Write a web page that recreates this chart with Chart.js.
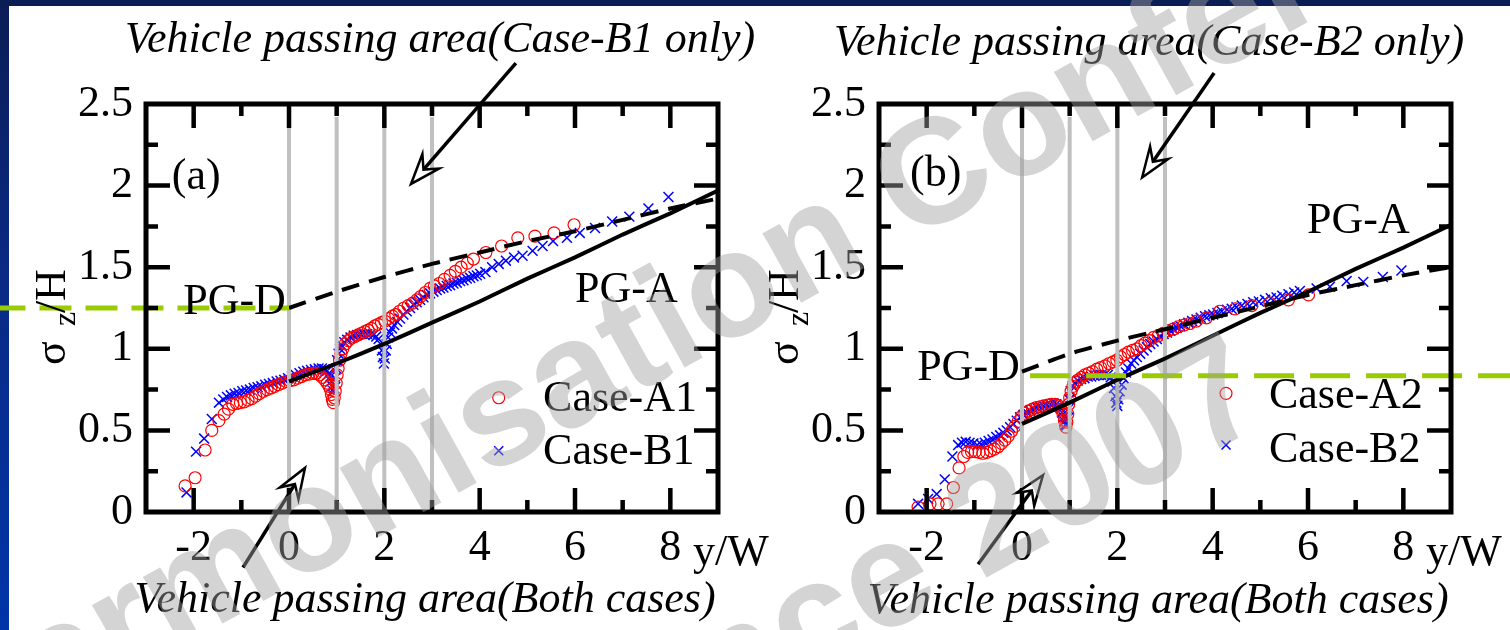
<!DOCTYPE html>
<html>
<head>
<meta charset="utf-8">
<script src="https://cdn.jsdelivr.net/npm/chart.js@4.4.1/dist/chart.umd.min.js"></script>
<style>
  html, body { margin: 0; padding: 0; }
  body { width: 1510px; height: 630px; position: relative; overflow: hidden; background: #fff; }
  #topbar { position: absolute; left: 0; top: 0; width: 1510px; height: 6px; background: #0b1d55; }
  #leftbar { position: absolute; left: 0; top: 0; width: 9px; height: 630px;
             background: linear-gradient(#0b1d55, #0a2a86 45%, #0035a8); }
  canvas { position: absolute; left: 0; top: 0; }
  .wm { position: absolute; left: 0; top: 0; white-space: nowrap; pointer-events: none;
        font: bold 150px "Liberation Sans", Arial, sans-serif; color: rgba(160,160,160,0.45);
        transform-origin: 0 0; line-height: 1; }
</style>
</head>
<body>
<div id="topbar"></div>
<div id="leftbar"></div>
<canvas id="panelA" width="1510" height="630"></canvas>
<canvas id="panelB" width="1510" height="630"></canvas>
<div class="wm" id="wm1">Harmonisation Conference 2007</div>
<div class="wm" id="wm2">Harmonisation Conference 2007</div>
<script>
// ---------- axis ticks ----------
const X_TICK_VALUES = [-2, 0, 2, 4, 6, 8];
const X_TICK_LABELS = ['-2', '0', '2', '4', '6', '8'];
const Y_TICK_VALUES = [0, 0.5, 1, 1.5, 2, 2.5];
const Y_TICK_LABELS = ['0', '0.5', '1', '1.5', '2', '2.5'];

// ---------- panel (a) ----------
const A1_X = [-2.18, -1.97, -1.76, -1.62, -1.47, -1.36, -1.27, -1.18, -1.10, -1.02, -0.94, -0.86, -0.78, -0.70,
              -0.62, -0.54, -0.46, -0.38, -0.30, -0.22, -0.14, -0.06, 0.02, 0.10, 0.18, 0.26, 0.34, 0.42,
              0.50, 0.57, 0.64, 0.70, 0.75, 0.80, 0.84, 0.87, 0.89, 0.91, 0.93, 0.95, 0.97, 0.99, 1.01, 1.03,
              1.06, 1.09, 1.13, 1.18, 1.24, 1.31, 1.38, 1.45, 1.52, 1.59, 1.66, 1.73, 1.80, 1.87, 1.94, 2.01,
              2.09, 2.17, 2.24, 2.32, 2.41, 2.50, 2.59, 2.68, 2.76, 2.86, 2.96, 3.05, 3.15, 3.26, 3.38, 3.49,
              3.61, 3.74, 3.87, 4.13, 4.46, 4.80, 5.16, 5.56, 5.98];
const A1_Y = [0.16, 0.21, 0.38, 0.50, 0.56, 0.60, 0.63, 0.66, 0.665, 0.67, 0.675, 0.685, 0.695, 0.71,
              0.725, 0.74, 0.75, 0.76, 0.77, 0.78, 0.79, 0.80, 0.805, 0.81, 0.82, 0.83, 0.84, 0.845,
              0.85, 0.85, 0.84, 0.825, 0.81, 0.79, 0.77, 0.75, 0.72, 0.69, 0.67, 0.70, 0.74, 0.79, 0.84, 0.88,
              0.93, 0.97, 1.00, 1.03, 1.05, 1.065, 1.075, 1.085, 1.095, 1.105, 1.115, 1.125, 1.14, 1.15, 1.16, 1.17,
              1.185, 1.20, 1.21, 1.23, 1.25, 1.265, 1.28, 1.30, 1.32, 1.345, 1.37, 1.385, 1.40, 1.425, 1.45, 1.475,
              1.50, 1.525, 1.55, 1.59, 1.63, 1.68, 1.69, 1.71, 1.76];

const B1_X = [-2.15, -1.95, -1.78, -1.62, -1.47, -1.38, -1.30, -1.22, -1.14, -1.06, -0.98, -0.90, -0.82, -0.74,
              -0.66, -0.58, -0.50, -0.42, -0.34, -0.26, -0.18, -0.10, -0.02, 0.06, 0.14, 0.22, 0.30, 0.38,
              0.46, 0.54, 0.62, 0.69, 0.75, 0.80, 0.84, 0.87, 0.89, 0.91, 0.93, 0.95, 0.97, 0.99, 1.01, 1.04,
              1.07, 1.11, 1.16, 1.22, 1.29, 1.36, 1.43, 1.50, 1.57, 1.64, 1.71, 1.77, 1.83, 1.88, 1.92, 1.95,
              1.97, 1.99, 2.01, 2.03, 2.05, 2.08, 2.12, 2.16, 2.21, 2.27, 2.33, 2.40, 2.47, 2.54, 2.61, 2.68,
              2.75, 2.82, 2.89, 2.96, 3.03, 3.10, 3.17, 3.24, 3.31, 3.38, 3.45, 3.52, 3.59, 3.66, 3.73, 3.80,
              3.87, 3.94, 4.01, 4.12, 4.26, 4.40, 4.55, 4.72, 4.90, 5.11, 5.32, 5.54, 5.83, 6.10, 6.42, 6.78,
              7.14, 7.54, 7.96];
const B1_Y = [0.12, 0.37, 0.45, 0.57, 0.67, 0.69, 0.705, 0.715, 0.725, 0.73, 0.74, 0.745, 0.75, 0.76,
              0.765, 0.77, 0.78, 0.785, 0.79, 0.80, 0.805, 0.81, 0.82, 0.83, 0.84, 0.85, 0.86, 0.865,
              0.87, 0.875, 0.88, 0.88, 0.875, 0.865, 0.85, 0.83, 0.80, 0.77, 0.74, 0.76, 0.82, 0.88, 0.93, 0.97,
              1.00, 1.02, 1.04, 1.055, 1.07, 1.08, 1.085, 1.09, 1.09, 1.09, 1.09, 1.085, 1.075, 1.06, 1.03, 0.99,
              0.95, 0.91, 0.94, 0.99, 1.03, 1.07, 1.10, 1.125, 1.145, 1.165, 1.185, 1.21, 1.23, 1.25, 1.27, 1.285,
              1.30, 1.315, 1.33, 1.34, 1.35, 1.36, 1.37, 1.375, 1.385, 1.39, 1.40, 1.405, 1.415, 1.42, 1.43, 1.435,
              1.445, 1.45, 1.46, 1.47, 1.50, 1.52, 1.54, 1.56, 1.57, 1.60, 1.63, 1.66, 1.68, 1.71, 1.74, 1.78,
              1.81, 1.86, 1.93];

// ---------- panel (b) ----------
const A2_X = [-2.18, -1.93, -1.76, -1.58, -1.44, -1.32, -1.22, -1.14, -1.06, -0.98, -0.90, -0.82, -0.74, -0.66,
              -0.58, -0.50, -0.43, -0.36, -0.29, -0.22, -0.15, -0.08, -0.01, 0.06, 0.14, 0.22, 0.30, 0.38,
              0.46, 0.54, 0.62, 0.70, 0.77, 0.82, 0.86, 0.89, 0.92, 0.94, 0.96, 0.98, 1.00, 1.03, 1.07, 1.12,
              1.18, 1.25, 1.32, 1.40, 1.48, 1.57, 1.65, 1.74, 1.83, 1.91, 1.99, 2.07, 2.15, 2.23, 2.32, 2.41,
              2.50, 2.58, 2.67, 2.76, 2.86, 2.96, 3.06, 3.17, 3.28, 3.40, 3.52, 3.66, 3.87, 4.15, 4.47, 4.82,
              5.20, 5.59, 6.01];
const A2_Y = [0.03, 0.05, 0.05, 0.05, 0.15, 0.27, 0.34, 0.365, 0.37, 0.37, 0.365, 0.36, 0.365, 0.375,
              0.385, 0.40, 0.42, 0.44, 0.465, 0.495, 0.525, 0.555, 0.585, 0.605, 0.62, 0.63, 0.64, 0.645,
              0.65, 0.655, 0.66, 0.66, 0.65, 0.63, 0.60, 0.56, 0.52, 0.55, 0.60, 0.66, 0.70, 0.74, 0.77, 0.795,
              0.81, 0.825, 0.84, 0.85, 0.86, 0.875, 0.885, 0.895, 0.91, 0.92, 0.93, 0.95, 0.965, 0.98, 0.99, 1.00,
              1.02, 1.035, 1.05, 1.07, 1.08, 1.095, 1.11, 1.12, 1.135, 1.145, 1.155, 1.17, 1.19, 1.23, 1.245, 1.265,
              1.28, 1.30, 1.33];

const B2_X = [-2.18, -1.97, -1.79, -1.62, -1.46, -1.34, -1.26, -1.18, -1.10, -1.02, -0.94, -0.86, -0.78, -0.70,
              -0.62, -0.54, -0.46, -0.39, -0.32, -0.25, -0.18, -0.11, -0.04, 0.03, 0.10, 0.17, 0.24, 0.31,
              0.38, 0.45, 0.52, 0.59, 0.66, 0.72, 0.77, 0.81, 0.84, 0.87, 0.89, 0.91, 0.93, 0.95, 0.97, 0.99,
              1.02, 1.06, 1.11, 1.17, 1.24, 1.31, 1.38, 1.45, 1.52, 1.59, 1.66, 1.73, 1.80, 1.86, 1.90, 1.93,
              1.96, 1.98, 2.00, 2.02, 2.05, 2.09, 2.13, 2.18, 2.23, 2.29, 2.35, 2.41, 2.48, 2.55, 2.62, 2.69,
              2.76, 2.83, 2.90, 2.97, 3.04, 3.11, 3.18, 3.25, 3.32, 3.40, 3.49, 3.57, 3.66, 3.75, 3.84, 3.93,
              4.01, 4.10, 4.19, 4.30, 4.40, 4.50, 4.61, 4.73, 4.85, 4.97, 5.10, 5.22, 5.34, 5.46, 5.59, 5.71,
              5.83, 6.18, 6.46, 6.81, 7.16, 7.57, 7.96];
const B2_Y = [0.05, 0.08, 0.11, 0.20, 0.34, 0.41, 0.425, 0.43, 0.425, 0.42, 0.41, 0.415, 0.425, 0.435,
              0.445, 0.46, 0.47, 0.485, 0.50, 0.52, 0.54, 0.56, 0.58, 0.595, 0.61, 0.62, 0.63, 0.64,
              0.645, 0.65, 0.655, 0.66, 0.665, 0.66, 0.65, 0.635, 0.61, 0.58, 0.555, 0.535, 0.53, 0.57, 0.63, 0.69,
              0.74, 0.77, 0.79, 0.805, 0.815, 0.82, 0.83, 0.83, 0.835, 0.84, 0.84, 0.84, 0.84, 0.825, 0.80, 0.76,
              0.71, 0.67, 0.65, 0.69, 0.74, 0.78, 0.82, 0.855, 0.88, 0.91, 0.93, 0.95, 0.97, 0.99, 1.01, 1.03,
              1.045, 1.06, 1.075, 1.09, 1.10, 1.11, 1.12, 1.13, 1.14, 1.15, 1.16, 1.17, 1.18, 1.19, 1.20, 1.205,
              1.21, 1.22, 1.23, 1.24, 1.245, 1.255, 1.265, 1.275, 1.285, 1.29, 1.30, 1.31, 1.315, 1.325, 1.335, 1.345,
              1.355, 1.37, 1.38, 1.415, 1.41, 1.44, 1.48];

// ---------- PG curves ----------
const PG_X = [0, 1, 2, 3, 4, 5, 6, 7, 8, 9];
const PGA_PANEL_A = [0.80, 0.91, 1.03, 1.16, 1.29, 1.43, 1.56, 1.70, 1.83, 1.97];
const PGD_PANEL_A = [1.25, 1.35, 1.44, 1.52, 1.59, 1.66, 1.72, 1.79, 1.86, 1.92];
const PGA_PANEL_B = [0.54, 0.67, 0.81, 0.94, 1.08, 1.22, 1.35, 1.49, 1.62, 1.76];
const PGD_PANEL_B = [0.86, 0.97, 1.05, 1.12, 1.19, 1.26, 1.33, 1.39, 1.45, 1.50];

// vehicle passing lanes and reference levels
const LANE_X = [0, 1, 2, 3];
const LANE_TOP = 2.42;
const REF_A = { y: 1.25, x: [-6.2, 0] };
const REF_B = { y: 0.835, x: [0.17, 10.4] };

const SERIF = '"Liberation Serif", "Times New Roman", serif';

function pts(xs, ys) { return xs.map((x, i) => ({ x: x, y: ys[i] })); }

function arrow(ctx, x0, y0, x1, y1) {
  const dx = x1 - x0, dy = y1 - y0, len = Math.hypot(dx, dy);
  const ux = dx / len, uy = dy / len, nx = -uy, ny = ux;
  const L = 30, W = 11, notch = 19;
  const bx = x1 - ux * L, by = y1 - uy * L, mx = x1 - ux * notch, my = y1 - uy * notch;
  ctx.strokeStyle = '#000';
  ctx.lineWidth = 3.5;
  ctx.beginPath(); ctx.moveTo(x0, y0); ctx.lineTo(mx, my); ctx.stroke();
  ctx.lineWidth = 2.5;
  ctx.beginPath();
  ctx.moveTo(x1, y1); ctx.lineTo(bx + nx * W, by + ny * W); ctx.lineTo(mx, my);
  ctx.lineTo(bx - nx * W, by - ny * W); ctx.closePath();
  ctx.fillStyle = '#fff'; ctx.fill(); ctx.stroke();
}

const panelDecor = {
  id: 'panelDecor',
  afterDatasetsDraw(chart, args, o) {
    const ctx = chart.ctx, a = chart.chartArea, xs = chart.scales.x, ys = chart.scales.y;
    const X = v => xs.getPixelForValue(v), Y = v => ys.getPixelForValue(v);
    ctx.save();
    // inward tick marks on all four sides
    ctx.strokeStyle = '#000'; ctx.lineWidth = 4.5; ctx.lineCap = 'butt';
    xs.ticks.forEach(t => {
      const v = t.value;
      if (v <= xs.min || v >= xs.max) return;
      const px = X(v), L = (Math.round(v) % 2 === 0) ? 24 : 12;
      ctx.beginPath();
      ctx.moveTo(px, a.bottom); ctx.lineTo(px, a.bottom - L);
      ctx.moveTo(px, a.top); ctx.lineTo(px, a.top + L);
      ctx.stroke();
    });
    ys.ticks.forEach(t => {
      const v = t.value;
      if (v <= ys.min || v >= ys.max) return;
      const py = Y(v), major = Math.abs(v * 2 - Math.round(v * 2)) < 1e-6, L = major ? 24 : 12;
      ctx.beginPath();
      ctx.moveTo(a.left, py); ctx.lineTo(a.left + L, py);
      ctx.moveTo(a.right, py); ctx.lineTo(a.right - L, py);
      ctx.stroke();
    });
    ctx.lineWidth = 5;
    ctx.strokeRect(a.left, a.top, a.right - a.left, a.bottom - a.top);

    // arrows
    o.arrows.forEach(r => arrow(ctx, X(r[0]), Y(r[1]), X(r[2]), Y(r[3])));

    // in-plot labels
    ctx.fillStyle = '#000';
    ctx.textBaseline = 'alphabetic';
    ctx.textAlign = 'left';
    ctx.font = '44px ' + SERIF;
    o.labels.forEach(l => ctx.fillText(l.text, X(l.x), Y(l.y)));

    // legend
    o.legend.forEach(g => {
      const mx = X(g.x), my = Y(g.y);
      ctx.lineWidth = g.marker === 'circle' ? 1.2 : 1.5;
      ctx.strokeStyle = g.color;
      ctx.beginPath();
      if (g.marker === 'circle') { ctx.arc(mx, my, 6, 0, Math.PI * 2); }
      else { ctx.moveTo(mx - 4.5, my - 4.5); ctx.lineTo(mx + 4.5, my + 4.5); ctx.moveTo(mx + 4.5, my - 4.5); ctx.lineTo(mx - 4.5, my + 4.5); }
      ctx.stroke();
      ctx.fillStyle = '#000';
      ctx.fillText(g.text, X(g.tx), Y(g.ty));
    });

    // x axis title
    ctx.fillText('y/W', a.right - 25, a.bottom + 53);

    // y axis title: sigma_z / H, rotated
    ctx.save();
    ctx.translate(a.left - 81, Y(0.9));
    ctx.rotate(-Math.PI / 2);
    ctx.font = '44px ' + SERIF;
    ctx.fillText('\u03C3', 0, 0);
    ctx.font = '32px ' + SERIF;
    ctx.fillText('z', 39, 10);
    ctx.font = '44px ' + SERIF;
    ctx.fillText('/H', 52, 0);
    ctx.restore();

    // annotation captions above and below the panel
    ctx.font = 'italic 44px ' + SERIF;
    ctx.textAlign = 'center';
    o.captions.forEach(c => ctx.fillText(c.text, c.cx, c.by));
    ctx.restore();
  }
};

function makePanel(id, padLeft, padRight, series, extras) {
  const datasets = [];
  datasets.push({
    label: 'ref', data: [{ x: extras.ref.x[0], y: extras.ref.y }, { x: extras.ref.x[1], y: extras.ref.y }],
    type: 'line', borderColor: '#99cc00', borderWidth: 5, borderDash: extras.refDash,
    pointRadius: 0, clip: false, order: 0
  });
  datasets.push({
    label: 'PG-A', data: pts(PG_X, series.pga), type: 'line', borderColor: '#000', borderWidth: 4,
    pointRadius: 0, tension: 0.2, order: 1
  });
  datasets.push({
    label: 'PG-D', data: pts(PG_X, series.pgd), type: 'line', borderColor: '#000', borderWidth: 4,
    borderDash: [18, 10], pointRadius: 0, tension: 0.2, order: 1
  });
  LANE_X.forEach(x => datasets.push({
    label: 'lane', data: [{ x: x, y: 0 }, { x: x, y: LANE_TOP }], type: 'line',
    borderColor: '#c0c0c0', borderWidth: 4, pointRadius: 0, order: 3
  }));
  datasets.push({
    label: series.bName, data: pts(series.bx, series.by), showLine: false,
    pointStyle: 'crossRot', pointRadius: 7, pointBorderWidth: 1.5,
    pointBorderColor: '#0000ff', pointBackgroundColor: '#0000ff', order: 5
  });
  datasets.push({
    label: series.aName, data: pts(series.ax, series.ay), showLine: false,
    pointStyle: 'circle', pointRadius: 6, pointBorderWidth: 1.2,
    pointBorderColor: '#ff0000', pointBackgroundColor: 'rgba(0,0,0,0)', order: 4
  });

  return new Chart(document.getElementById(id), {
    type: 'scatter',
    data: { datasets: datasets },
    options: {
      responsive: false, animation: false, devicePixelRatio: 1,
      layout: { padding: { left: padLeft, right: padRight, top: 104, bottom: 0 } },
      plugins: { legend: { display: false }, tooltip: { enabled: false }, panelDecor: extras.decor },
      scales: {
        x: {
          type: 'linear', min: -3, max: 9,
          grid: { display: false, drawTicks: false }, border: { display: false },
          ticks: {
            stepSize: 1, padding: 10, color: '#000', font: { family: SERIF, size: 44 },
            maxRotation: 0, autoSkip: false,
            callback: v => { const i = X_TICK_VALUES.indexOf(Math.round(v * 1000) / 1000); return i >= 0 ? X_TICK_LABELS[i] : ''; }
          },
          afterFit: s => { s.height = 118; }
        },
        y: {
          type: 'linear', min: 0, max: 2.5,
          grid: { display: false, drawTicks: false }, border: { display: false },
          ticks: {
            stepSize: 0.25, padding: 13, color: '#000', font: { family: SERIF, size: 44 }, autoSkip: false,
            callback: v => { const i = Y_TICK_VALUES.indexOf(Math.round(v * 1000) / 1000); return i >= 0 ? Y_TICK_LABELS[i] : ''; }
          },
          afterFit: s => { s.width = 146; }
        }
      }
    },
    plugins: [panelDecor]
  });
}

makePanel('panelA', 0, 1510 - 718,
  { ax: A1_X, ay: A1_Y, bx: B1_X, by: B1_Y, pga: PGA_PANEL_A, pgd: PGD_PANEL_A, aName: 'Case-A1', bName: 'Case-B1' },
  {
    ref: REF_A, refDash: [32, 14],
    decor: {
      labels: [{ text: '(a)', x: -2.46, y: 1.98 }, { text: 'PG-D', x: -2.22, y: 1.215 }, { text: 'PG-A', x: 6.0, y: 1.285 }],
      legend: [
        { marker: 'circle', color: '#ff0000', x: 4.4, y: 0.70, text: 'Case-A1', tx: 5.33, ty: 0.62 },
        { marker: 'cross', color: '#0000ff', x: 4.4, y: 0.375, text: 'Case-B1', tx: 5.33, ty: 0.295 }
      ],
      arrows: [[4.76, 2.75, 2.56, 2.01], [-0.965, -0.34, 0.335, 0.27]],
      captions: [
        { text: 'Vehicle passing area(Case-B1 only)', cx: 440, by: 52 },
        { text: 'Vehicle passing area(Both cases)', cx: 425, by: 612 }
      ]
    }
  });

makePanel('panelB', 879 - 146, 1510 - 1451,
  { ax: A2_X, ay: A2_Y, bx: B2_X, by: B2_Y, pga: PGA_PANEL_B, pgd: PGD_PANEL_B, aName: 'Case-A2', bName: 'Case-B2' },
  {
    ref: REF_B, refDash: [40, 16],
    decor: {
      labels: [{ text: '(b)', x: -2.35, y: 2.0 }, { text: 'PG-D', x: -2.2, y: 0.807 }, { text: 'PG-A', x: 5.98, y: 1.71 }],
      legend: [
        { marker: 'circle', color: '#ff0000', x: 4.28, y: 0.727, text: 'Case-A2', tx: 5.18, ty: 0.636 },
        { marker: 'cross', color: '#0000ff', x: 4.28, y: 0.41, text: 'Case-B2', tx: 5.18, ty: 0.306 }
      ],
      arrows: [[4.03, 2.69, 2.52, 2.05], [-0.92, -0.32, 0.44, 0.226]],
      captions: [
        { text: 'Vehicle passing area(Case-B2 only)', cx: 1149, by: 55 },
        { text: 'Vehicle passing area(Both cases)', cx: 1158, by: 613 }
      ]
    }
  });

// watermark lines along a diagonal
const WM_ANGLE = -29;
function placeWatermark(id, x, y) {
  const el = document.getElementById(id);
  el.style.transform = 'translate(' + x + 'px,' + y + 'px) rotate(' + WM_ANGLE + 'deg) translate(0,-0.85em)';
}
placeWatermark('wm1', -46, 773);
placeWatermark('wm2', -731, 1530);
</script>
</body>
</html>
